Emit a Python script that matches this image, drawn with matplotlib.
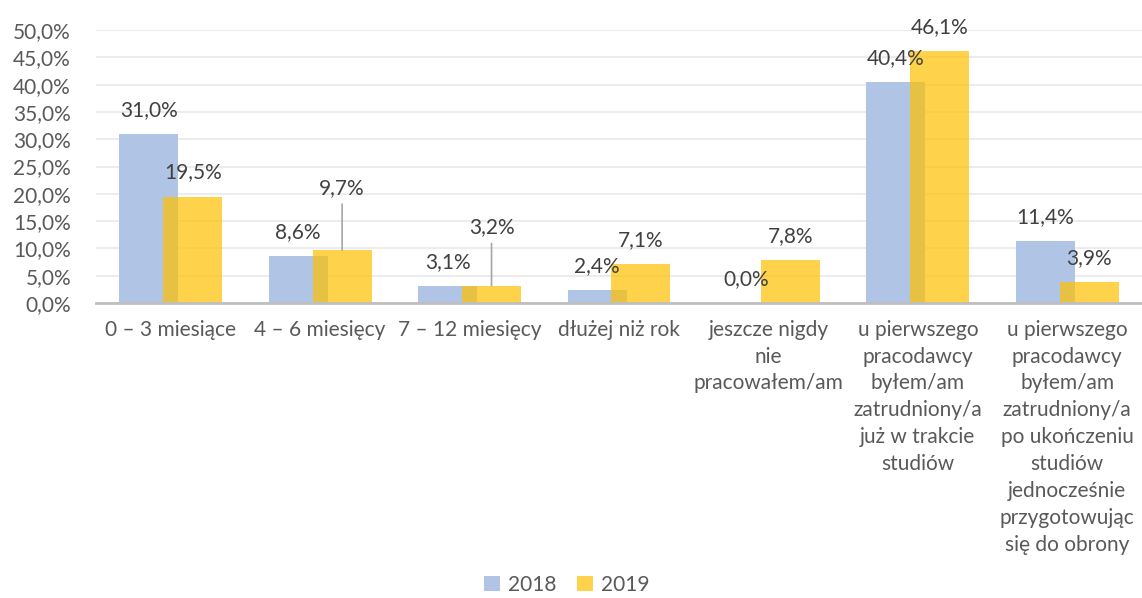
import matplotlib
matplotlib.use("Agg")
import matplotlib.pyplot as plt
from matplotlib.patches import Patch

plt.rcParams['font.family'] = ['Lato', 'DejaVu Sans']

categories = [
    "0 – 3 miesiące",
    "4 – 6 miesięcy",
    "7 – 12 miesięcy",
    "dłużej niż rok",
    "jeszcze nigdy\nnie\npracowałem/am",
    "u pierwszego\npracodawcy\nbyłem/am\nzatrudniony/a\njuż w trakcie\nstudiów",
    "u pierwszego\npracodawcy\nbyłem/am\nzatrudniony/a\npo ukończeniu\nstudiów\njednocześnie\nprzygotowując\nsię do obrony",
]
values_2018 = [31.0, 8.6, 3.1, 2.4, 0.0, 40.4, 11.4]
values_2019 = [19.5, 9.7, 3.2, 7.1, 7.8, 46.1, 3.9]
series_names = ["2018", "2019"]
y_ticks = [0, 5, 10, 15, 20, 25, 30, 35, 40, 45, 50]

blue = "#b0c4e6"
yellow = "#ffc000"
yellow_alpha = 0.7
text_color = "#595959"
label_color = "#404040"
fs = 15

fig = plt.figure(figsize=(11.42, 5.98), dpi=100)
ax = fig.add_axes([96 / 1142, (598 - 303) / 598, 1 - 96 / 1142, (303 - 30) / 598])

x = list(range(len(categories)))
width = 0.395
shift = 0.147
xb = [i - shift for i in x]
xy = [i + shift for i in x]

ax.bar(xb, values_2018, width=width, color=blue, zorder=2)
ax.bar(xy, values_2019, width=width, color=yellow, alpha=yellow_alpha, zorder=3,
       linewidth=0)

ax.set_xlim(-0.5, len(categories) - 0.5)
ax.set_ylim(0, 50)
ax.set_yticks(y_ticks)
ax.set_yticklabels([f"{v:.1f}%".replace(".", ",") for v in y_ticks])
ax.grid(axis="y", color="#e9e9e9", linewidth=1.2, zorder=0)
ax.set_axisbelow(True)

for s in ["left", "right", "top"]:
    ax.spines[s].set_visible(False)
ax.spines["bottom"].set_color("#bfbfbf")
ax.spines["bottom"].set_linewidth(2.0)
ax.spines["bottom"].set_zorder(4)

ax.set_xticks(x)
ax.set_xticklabels(categories, linespacing=1.43)
ax.tick_params(axis="x", length=0, pad=12, labelsize=fs, labelcolor=text_color)
ax.tick_params(axis="y", length=0, pad=18, labelsize=fs, labelcolor=text_color)
for lbl in ax.get_xticklabels():
    lbl.set_verticalalignment("top")
    lbl.set_horizontalalignment("center")


def fmt(v):
    return f"{v:.1f}%".replace(".", ",")


# data labels above each bar; two yellow labels are lifted with a leader line
lifted = {1: 62, 2: 58}
for i in x:
    ax.annotate(fmt(values_2018[i]), (xb[i], values_2018[i]), xytext=(0, 24),
                textcoords="offset pixels", ha="center", va="center",
                fontsize=fs, color=label_color, zorder=6)
    off = lifted.get(i, 24)
    ax.annotate(fmt(values_2019[i]), (xy[i], values_2019[i]), xytext=(0, off),
                textcoords="offset pixels", ha="center", va="center",
                fontsize=fs, color=label_color, zorder=6)
    if i in lifted:
        ax.annotate("", (xy[i], values_2019[i]), xytext=(0, off - 16),
                    textcoords="offset pixels",
                    arrowprops=dict(arrowstyle="-", color="#a6a6a6", lw=1.2,
                                    shrinkA=0, shrinkB=0), zorder=5)

handles = [Patch(facecolor=blue, label=series_names[0]),
           Patch(facecolor=yellow, alpha=yellow_alpha, label=series_names[1])]
fig.legend(handles=handles, loc="center", bbox_to_anchor=(567 / 1142, 13 / 598),
           ncol=2, frameon=False, fontsize=fs, labelcolor=text_color,
           handlelength=0.75, handleheight=0.75, handletextpad=0.4,
           columnspacing=1.0)

fig.savefig("out.png", dpi=100)
